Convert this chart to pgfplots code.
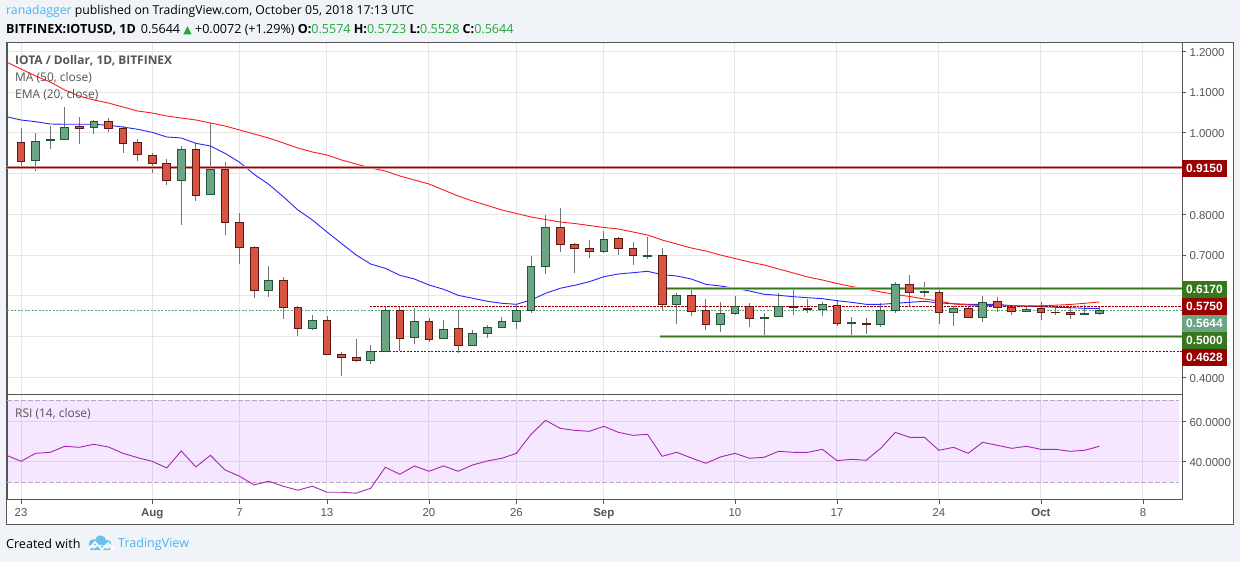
\documentclass[border=0pt]{standalone}
\usepackage{fontspec}
\setmainfont{Open Sans}
\newfontfamily\tickfont{Liberation Sans}
\newfontfamily\symfont{DejaVu Sans}
\usepackage{pgfplots}
\usepackage{pgfplotstable}
\pgfplotsset{compat=1.18}

\definecolor{pagebg}{HTML}{F0F3F8}
\definecolor{framec}{HTML}{555555}
\definecolor{gridc}{HTML}{E6E6E6}
\definecolor{tickc}{HTML}{555555}
\definecolor{upfill}{HTML}{6BA583}
\definecolor{upedge}{HTML}{225437}
\definecolor{dnfill}{HTML}{D75442}
\definecolor{dnedge}{HTML}{5B1A13}
\definecolor{wickc}{HTML}{737375}
\definecolor{lvlred}{HTML}{990000}
\definecolor{lvlgreen}{HTML}{38761D}
\definecolor{tvblue}{HTML}{4DB6E9}
\definecolor{valgreen}{HTML}{22A83A}
\definecolor{rsic}{HTML}{A626B3}
\definecolor{bandc}{HTML}{9915FF}
\definecolor{banddash}{HTML}{B8A8C4}

% candles: day (0 = 23 Jul), open, high, low, close
\pgfplotstableread{
d o h l c
-1 0.9988 1.0069 0.9676 0.9762
0 0.9767 1.0118 0.9193 0.9301
4 1.0160 1.0380 0.9725 1.0101
6 1.0282 1.0363 1.0020 1.0101
7 1.0110 1.0167 0.9512 0.9733
8 0.9767 0.9840 0.9315 0.9463
9 0.9448 0.9497 0.9021 0.9242
10 0.9252 0.9350 0.8726 0.8834
12 0.9595 0.9757 0.8334 0.8466
14 0.9104 0.9283 0.7499 0.7804
15 0.7804 0.8025 0.6788 0.7180
16 0.7190 0.7222 0.5953 0.6135
18 0.6380 0.6454 0.5438 0.5718
19 0.5718 0.5750 0.5021 0.5202
21 0.5399 0.5504 0.4564 0.4564
22 0.4564 0.4621 0.4039 0.4491
23 0.4491 0.4940 0.4383 0.4417
26 0.5644 0.5733 0.4638 0.4957
28 0.5374 0.5455 0.4874 0.4933
30 0.5202 0.5644 0.4589 0.4785
37 0.7681 0.8147 0.7082 0.7264
38 0.7264 0.7288 0.6567 0.7166
39 0.7166 0.7369 0.6935 0.7092
41 0.7411 0.7436 0.7009 0.7166
42 0.7166 0.7320 0.6763 0.6994
44 0.6994 0.7166 0.5644 0.5791
46 0.6012 0.6160 0.5512 0.5620
47 0.5634 0.5914 0.5168 0.5301
50 0.5742 0.5816 0.5242 0.5448
53 0.5742 0.6160 0.5536 0.5718
54 0.5701 0.5914 0.5585 0.5676
56 0.5767 0.5890 0.5266 0.5325
58 0.5333 0.5448 0.5070 0.5291
61 0.6282 0.6510 0.5742 0.6086
63 0.6086 0.6160 0.5315 0.5595
65 0.5693 0.5750 0.5472 0.5472
67 0.5865 0.5963 0.5595 0.5718
68 0.5718 0.5767 0.5521 0.5620
70 0.5693 0.5840 0.5413 0.5595
71 0.5602 0.5742 0.5521 0.5585
72 0.5595 0.5725 0.5438 0.5546
}\candlesdown

\pgfplotstableread{
d o h l c
1 0.9315 0.9988 0.9070 0.9791
2 0.9811 1.0167 0.9610 0.9836
3 0.9840 1.0626 0.9840 1.0135
5 1.0135 1.0314 0.9971 1.0282
11 0.8834 0.9676 0.7745 0.9595
13 0.8481 1.0248 0.8466 0.9104
17 0.6135 0.6731 0.5978 0.6380
20 0.5202 0.5521 0.5168 0.5399
24 0.4417 0.4793 0.4334 0.4638
25 0.4638 0.5733 0.4638 0.5644
27 0.4982 0.5701 0.4825 0.5374
29 0.4957 0.5406 0.4957 0.5178
31 0.4785 0.5153 0.4785 0.5080
32 0.5080 0.5283 0.4957 0.5227
33 0.5227 0.5480 0.5227 0.5374
34 0.5374 0.5774 0.5193 0.5644
35 0.5644 0.6977 0.5585 0.6724
36 0.6724 0.7975 0.6542 0.7681
40 0.7092 0.7590 0.7050 0.7387
43 0.6969 0.7443 0.6896 0.6994
45 0.5791 0.6061 0.5315 0.6012
48 0.5301 0.5840 0.5119 0.5571
49 0.5571 0.5988 0.5536 0.5742
51 0.5438 0.5571 0.5006 0.5472
52 0.5497 0.6061 0.5497 0.5742
55 0.5659 0.5848 0.5512 0.5791
57 0.5315 0.5472 0.4972 0.5340
59 0.5301 0.5816 0.5242 0.5644
60 0.5644 0.6331 0.5585 0.6282
62 0.6076 0.6331 0.5978 0.6110
64 0.5595 0.5742 0.5266 0.5693
66 0.5472 0.5988 0.5350 0.5840
69 0.5620 0.5742 0.5595 0.5669
73 0.5546 0.5767 0.5546 0.5571
74 0.5574 0.5723 0.5528 0.5644
}\candlesup

% moving averages: d, red, blue
\pgfplotstableread{
d ma ema
-1 1.1737 1.0395
0 1.1566 1.0314
1 1.1394 1.0272
2 1.1247 1.0216
3 1.1050 1.0209
4 1.0903 1.0209
5 1.0805 1.0209
6 1.0731 1.0184
7 1.0633 1.0142
8 1.0535 1.0086
9 1.0486 1.0012
10 1.0412 0.9897
11 1.0363 0.9872
12 1.0314 0.9742
13 1.0241 0.9676
14 1.0167 0.9497
15 1.0069 0.9276
16 0.9971 0.8982
17 0.9872 0.8736
18 0.9750 0.8432
19 0.9627 0.8106
20 0.9529 0.7860
21 0.9455 0.7566
22 0.9333 0.7283
23 0.9234 0.7001
24 0.9136 0.6780
25 0.9063 0.6675
26 0.8940 0.6503
27 0.8842 0.6412
28 0.8744 0.6265
29 0.8596 0.6160
30 0.8449 0.6012
31 0.8326 0.5939
32 0.8216 0.5865
33 0.8106 0.5816
34 0.8020 0.5791
35 0.7934 0.5897
36 0.7872 0.6061
37 0.7811 0.6184
38 0.7774 0.6258
39 0.7725 0.6346
40 0.7676 0.6469
41 0.7639 0.6535
42 0.7566 0.6567
43 0.7492 0.6601
44 0.7369 0.6518
45 0.7271 0.6486
46 0.7173 0.6412
47 0.7099 0.6282
48 0.7001 0.6240
49 0.6915 0.6184
50 0.6829 0.6118
51 0.6756 0.6037
52 0.6658 0.6012
53 0.6560 0.5978
54 0.6461 0.5953
55 0.6388 0.5929
56 0.6302 0.5880
57 0.6228 0.5840
58 0.6167 0.5791
59 0.6093 0.5791
60 0.6032 0.5816
61 0.5983 0.5840
62 0.5921 0.5865
63 0.5872 0.5823
64 0.5799 0.5806
65 0.5774 0.5791
66 0.5762 0.5791
67 0.5757 0.5791
68 0.5750 0.5757
69 0.5750 0.5750
70 0.5757 0.5733
71 0.5769 0.5718
72 0.5787 0.5708
73 0.5816 0.5693
74 0.5848 0.5683
}\averages

\pgfplotstableread{
d rsi
-1 43.03
0 40.00
1 44.03
2 44.54
3 47.56
4 47.06
5 48.57
6 47.23
7 44.03
8 41.85
9 40.00
10 36.64
11 45.21
12 37.14
13 43.03
14 35.63
15 32.44
16 28.07
17 29.92
18 27.39
19 25.38
20 27.39
21 24.37
22 24.37
23 23.87
24 26.39
25 36.97
26 33.45
27 37.65
28 34.96
29 37.65
30 34.96
31 38.15
32 40.17
33 41.51
34 44.03
35 53.61
36 60.67
37 56.64
38 55.63
39 55.13
40 57.65
41 54.62
42 53.11
43 53.61
44 42.52
45 44.54
46 41.68
47 38.99
48 42.18
49 44.03
50 41.51
51 42.02
52 45.04
53 44.54
54 44.54
55 46.05
56 40.34
57 41.01
58 40.50
59 46.55
60 54.62
61 52.10
62 52.10
63 45.55
64 47.06
65 44.03
66 49.58
67 48.07
68 46.55
69 47.56
70 46.05
71 46.05
72 45.04
73 45.55
74 47.56
}\rsidata

% candle body, height comes from the point (407.5 bp per 1.0 of price)
\pgfdeclareplotmark{candlebody}{%
  \pgfpathrectanglecorners{\pgfpoint{-3.9bp}{-0.5*\bodyh}}{\pgfpoint{3.9bp}{0.5*\bodyh}}%
  \pgfusepathqfillstroke}

\pgfplotsset{
  chartaxis/.style={
    scale only axis, width=1175bp,
    xmin=-0.961, xmax=79.68,
    clip mode=global,
    axis line style={color=framec, line width=1bp},
    grid=major,
    grid style={color=gridc, line width=1bp},
    xtick={0,9,15,21,28,34,40,49,56,63,70,77},
    yticklabel pos=right, ytick pos=right,
    tick align=outside,
    major tick length=4bp,
    tick style={color=framec, line width=0.8bp},
    tick label style={font=\tickfont\fontsize{11.5}{13}\selectfont, color=tickc},
    yticklabel style={yshift=-1bp},
    scaled y ticks=false,
    /pgf/number format/.cd, assume math mode=true, fixed, fixed zerofill, precision=4,
  },
  wick/.style={draw=none, mark=none, forget plot,
    error bars/.cd, y dir=plus, y explicit, error mark=none,
    error bar style={color=wickc, line width=0.9bp, solid}},
  candle/.style n args={2}{only marks, scatter, mark=candlebody,
    scatter/use mapped color={draw=#2, fill=#1},
    mark options={line width=0.9bp, solid},
    visualization depends on={abs(\thisrow{o}-\thisrow{c})*407.5 \as \bodyh}},
}

\newcommand{\pricebox}[3]{\node[fill=#2, text=white, minimum width=44.4bp, minimum height=17.2bp, inner sep=0pt,
  font=\tickfont\fontsize{12}{14}\selectfont\bfseries] at (1204.5,{562-#1}) {#3};}

\begin{document}
\begin{tikzpicture}[x=1bp,y=1bp]
\path[use as bounding box, fill=pagebg] (0,0) rectangle (1240,562);
\fill[white, draw=framec, line width=1bp] (6.5,37) rectangle (1233,519);

% header
\node[anchor=west, inner sep=0pt, font=\fontsize{12.3}{15}\selectfont] at (6,551) {\textcolor{tvblue}{ranadagger} published on TradingView.com, October 05, 2018 17:13 UTC};
\node[anchor=west, inner sep=0pt, font=\fontsize{12.6}{15}\selectfont] at (6,532) {\textbf{BITFINEX:IOTUSD, 1D}\hspace{0.4em}0.5644 \textcolor{valgreen}{\symfont\fontsize{11}{15}\selectfont ▲} +0.0072 (+1.29\%) \textbf{O:}\textcolor{valgreen}{0.5574} \textbf{H:}\textcolor{valgreen}{0.5723} \textbf{L:}\textcolor{valgreen}{0.5528} \textbf{C:}\textcolor{valgreen}{0.5644}};

% price panel
\begin{axis}[chartaxis,
  at={(7bp,167.7bp)}, anchor=south west,
  height=351.3bp,
  ymin=0.3583, ymax=1.2204,
  xticklabels={}, xtick style={draw=none},
  ytick={0.4,0.5,0.6,0.7,0.8,0.9,1.0,1.1,1.2},
  yticklabels={0.4000,,,0.7000,0.8000,,1.0000,1.1000,1.2000},
]
\addplot[wick] table[x=d, y=l, y error expr=\thisrow{h}-\thisrow{l}] {\candlesdown};
\addplot[wick] table[x=d, y=l, y error expr=\thisrow{h}-\thisrow{l}] {\candlesup};
\addplot[candle={dnfill}{dnedge}] table[x=d, y expr=(\thisrow{o}+\thisrow{c})/2] {\candlesdown};
\addplot[candle={upfill}{upedge}] table[x=d, y expr=(\thisrow{o}+\thisrow{c})/2] {\candlesup};

\addplot[color=blue!85!white, line width=0.9bp] table[x=d, y=ema] {\averages};
\addplot[color=red!90!white, line width=0.9bp] table[x=d, y=ma] {\averages};

% drawn levels
\addplot[color=upfill, line width=0.8bp, dash pattern=on 2bp off 1.5bp] coordinates {(-0.961,0.5644) (79.68,0.5644)};
\addplot[color=lvlred, line width=0.9bp, dash pattern=on 2.2bp off 1.3bp] coordinates {(23.95,0.5750) (79.68,0.5750)};
\addplot[color=lvlred, line width=0.9bp, dash pattern=on 2.2bp off 1.3bp] coordinates {(24.3,0.4628) (79.68,0.4628)};
\addplot[color=lvlred!45, line width=2.8bp] coordinates {(-0.961,0.9150) (79.68,0.9150)};
\addplot[color=lvlred, line width=1.2bp] coordinates {(-0.961,0.9150) (79.68,0.9150)};
\addplot[color=lvlgreen!50, line width=2.8bp] coordinates {(44.24,0.6170) (79.68,0.6170)};
\addplot[color=lvlgreen, line width=1.2bp] coordinates {(44.24,0.6170) (79.68,0.6170)};
\addplot[color=lvlgreen!50, line width=2.8bp] coordinates {(43.86,0.5000) (79.68,0.5000)};
\addplot[color=lvlgreen, line width=1.2bp] coordinates {(43.86,0.5000) (79.68,0.5000)};
\end{axis}

% RSI panel
\begin{axis}[chartaxis,
  at={(7bp,62bp)}, anchor=south west,
  height=105.7bp,
  ymin=20.45, ymax=73.84,
  xticklabels={23,\textbf{Aug},7,13,20,26,\textbf{Sep},10,17,24,\textbf{Oct},8},
  xtick pos=bottom,
  xticklabel style={yshift=-1bp},
  ytick={40,60},
]
\addplot[fill=bandc, fill opacity=0.1, draw=none, forget plot] coordinates {(-0.961,29.5) (79.5,29.5) (79.5,70.8) (-0.961,70.8)} -- cycle;
\addplot[color=banddash, line width=0.9bp, dash pattern=on 4.5bp off 2.5bp] coordinates {(-0.961,70.8) (79.5,70.8)};
\addplot[color=banddash, line width=0.9bp, dash pattern=on 4.5bp off 2.5bp] coordinates {(-0.961,29.5) (79.5,29.5)};
\addplot[color=rsic, line width=0.9bp] table[x=d, y=rsi] {\rsidata};
\end{axis}

% legend text
\node[anchor=west, inner sep=0pt, text=tickc, font=\fontsize{12}{14}\selectfont\bfseries] at (15,501) {IOTA / Dollar, 1D, BITFINEX};
\node[anchor=west, inner sep=0pt, text=tickc, font=\fontsize{12}{14}\selectfont] at (15,484) {MA (50, close)};
\node[anchor=west, inner sep=0pt, text=tickc, font=\fontsize{12}{14}\selectfont] at (15,467) {EMA (20, close)};
\node[anchor=west, inner sep=0pt, text=tickc, font=\fontsize{12}{14}\selectfont] at (15,148) {RSI (14, close)};

% price labels on the scale
\pricebox{168.5}{lvlred}{0.9150}
\pricebox{289.3}{lvlgreen}{0.6170}
\pricebox{306.5}{lvlred}{0.5750}
\pricebox{323.6}{upfill}{0.5644}
\pricebox{340.6}{lvlgreen}{0.5000}
\pricebox{357.6}{lvlred}{0.4628}

% footer
\node[anchor=west, inner sep=0pt, font=\fontsize{12.6}{15}\selectfont] at (6,18) {Created with};
\fill[tvblue!85!white] (93.5,18) circle (4.8) (100.5,21) circle (5.6) (107,17.5) circle (4.6) (90,12) rectangle (110,17);
\draw[white, line width=1.6bp] (87,11) -- (95,20) -- (102,12.5) -- (108,19) -- (114,13);
\node[anchor=west, inner sep=0pt, text=tvblue, font=\fontsize{12.6}{15}\selectfont] at (118,18) {TradingView};
\end{tikzpicture}
\end{document}
